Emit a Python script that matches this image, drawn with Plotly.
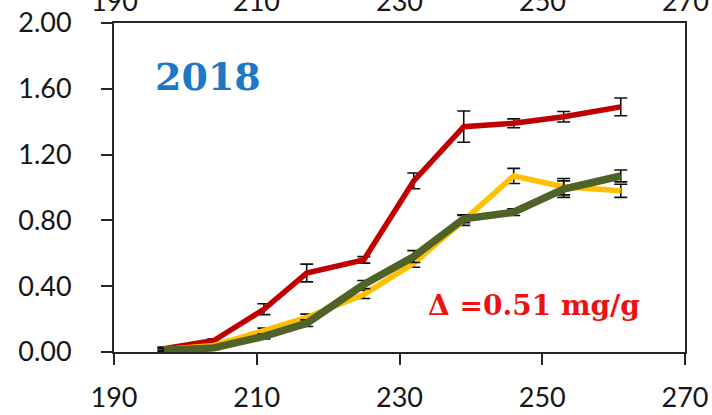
import plotly.graph_objects as go

# Day of year for each sampling date
days = [197, 204, 211, 217, 225, 232, 239, 246, 253, 261]

# Mean content (mg/g) and standard errors for the three series
red_vals = [0.02, 0.07, 0.26, 0.48, 0.56, 1.04, 1.37, 1.39, 1.43, 1.49]
red_err = [0.01, 0.01, 0.033, 0.054, 0.02, 0.048, 0.095, 0.027, 0.032, 0.054]

yellow_vals = [0.015, 0.04, 0.13, 0.21, 0.35, 0.54, 0.80, 1.07, 1.005, 0.98]
yellow_err = [0.01, 0.01, 0.015, 0.02, 0.025, 0.025, 0.03, 0.046, 0.05, 0.04]

green_vals = [0.01, 0.025, 0.095, 0.175, 0.41, 0.58, 0.81, 0.85, 0.99, 1.07]
green_err = [0.01, 0.01, 0.015, 0.02, 0.025, 0.036, 0.024, 0.02, 0.05, 0.036]

x_ticks = [190, 210, 230, 250, 270]
y_ticks = [0.0, 0.4, 0.8, 1.2, 1.6, 2.0]

year_label = "2018"
delta_label = "Δ =0.51 mg/g"

series = [
    (red_vals, red_err, "#C00000", 5.5),
    (yellow_vals, yellow_err, "#FFC000", 5.5),
    (green_vals, green_err, "#4F6228", 7.5),
]

fig = go.Figure()
for vals, errs, color, lw in series:
    fig.add_trace(go.Scatter(
        x=days, y=vals, mode="lines",
        line=dict(color=color, width=lw),
        error_y=dict(type="data", array=errs, visible=True,
                     color="#111111", thickness=1.6, width=6.5),
        showlegend=False,
    ))

tick_font = dict(family="Lato", size=27, color="#161616")
axis_common = dict(
    showline=True, linecolor="#262626", linewidth=2, mirror=True,
    ticks="outside", ticklen=11, tickwidth=2, tickcolor="#262626",
    showgrid=False, zeroline=False, tickfont=tick_font, automargin=False,
)

fig.update_xaxes(range=[190, 270], tickvals=x_ticks,
                 ticktext=[str(v) for v in x_ticks],
                 ticklabelstandoff=10, **axis_common)
fig.update_yaxes(range=[0, 2], tickvals=y_ticks, tickformat=".2f",
                 ticklabelstandoff=24, **axis_common)

# Tick labels of the panel above, mostly cut off by the page edge
for v in x_ticks:
    fig.add_annotation(x=v, xref="x", y=1, yref="paper",
                       yanchor="bottom", yshift=4, text=str(v),
                       showarrow=False, font=tick_font)

fig.add_annotation(x=203.1, y=1.677, xref="x", yref="y", text=year_label,
                   showarrow=False,
                   font=dict(family="DejaVu Serif", size=38, color="#1F78C6",
                             weight="bold"))
fig.add_annotation(x=248.8, y=0.28, xref="x", yref="y", text=delta_label,
                   showarrow=False,
                   font=dict(family="DejaVu Serif", size=28, color="#EE1111",
                             weight="bold"))

fig.update_layout(
    width=712, height=415,
    margin=dict(l=114, r=27, t=23, b=63),
    paper_bgcolor="white", plot_bgcolor="white",
)

fig.write_html("out.html")
